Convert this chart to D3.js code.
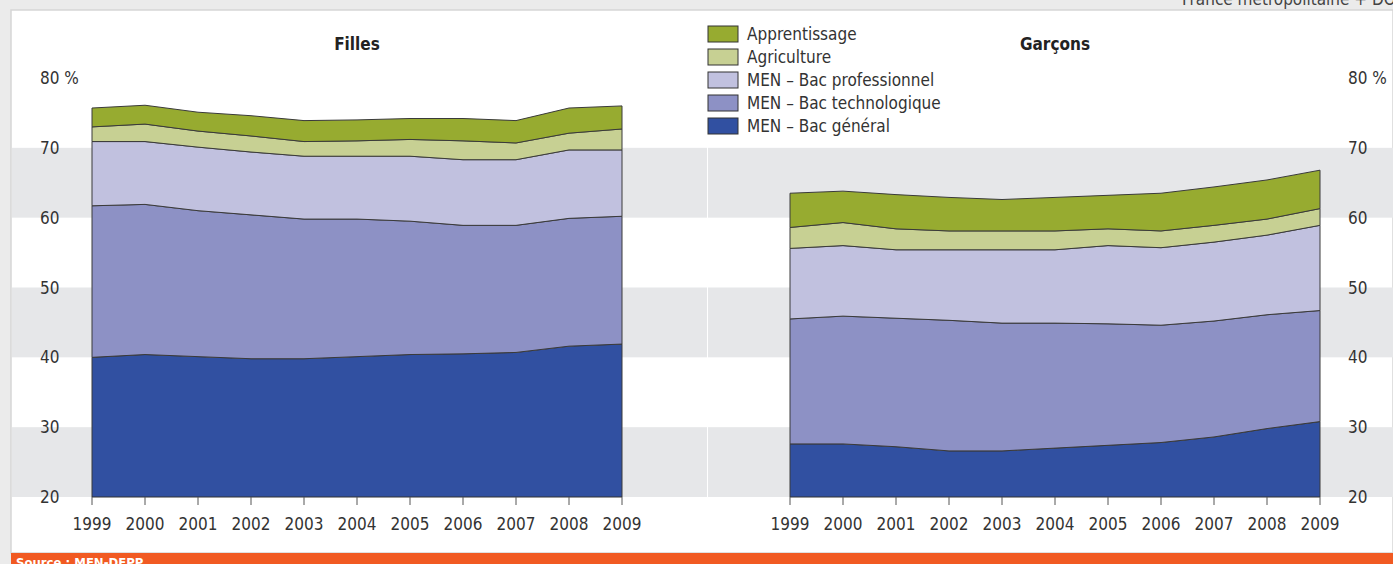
<!DOCTYPE html>
<html>
<head>
<meta charset="utf-8">
<script src="https://cdn.jsdelivr.net/npm/d3@7"></script>
<style>
  body { margin: 0; background: #ebebeb; }
  svg { display: block; font-family: "Liberation Sans Narrow", "DejaVu Sans Condensed", sans-serif; }
</style>
</head>
<body>
<svg id="chart" width="1393" height="564"></svg>
<script>
const years = [1999, 2000, 2001, 2002, 2003, 2004, 2005, 2006, 2007, 2008, 2009];
const seriesNames = ["MEN – Bac général", "MEN – Bac technologique", "MEN – Bac professionnel", "Agriculture", "Apprentissage"];
const colors = ["#3150a1", "#8d91c5", "#c1c1df", "#c7d093", "#97ab30"];
const yTicks = [20, 30, 40, 50, 60, 70, 80];

// Filles (%)
const fillesGeneral = [40.0, 40.4, 40.1, 39.8, 39.8, 40.1, 40.4, 40.5, 40.7, 41.6, 41.9];
const fillesTechno  = [21.7, 21.5, 20.9, 20.6, 20.0, 19.7, 19.1, 18.4, 18.2, 18.3, 18.3];
const fillesPro     = [9.2, 9.0, 9.1, 9.0, 9.0, 9.0, 9.3, 9.4, 9.4, 9.8, 9.5];
const fillesAgri    = [2.1, 2.5, 2.3, 2.3, 2.1, 2.2, 2.4, 2.7, 2.4, 2.4, 3.0];
const fillesAppr    = [2.7, 2.7, 2.7, 2.9, 3.0, 3.0, 3.0, 3.2, 3.2, 3.6, 3.3];

// Garçons (%)
const garconsGeneral = [27.6, 27.6, 27.2, 26.6, 26.6, 27.0, 27.4, 27.8, 28.6, 29.8, 30.8];
const garconsTechno  = [17.9, 18.3, 18.4, 18.7, 18.3, 17.9, 17.4, 16.8, 16.6, 16.3, 15.9];
const garconsPro     = [10.1, 10.1, 9.8, 10.1, 10.5, 10.5, 11.2, 11.1, 11.3, 11.4, 12.2];
const garconsAgri    = [3.0, 3.3, 3.0, 2.7, 2.7, 2.7, 2.4, 2.4, 2.4, 2.3, 2.4];
const garconsAppr    = [4.9, 4.5, 4.9, 4.8, 4.5, 4.8, 4.8, 5.4, 5.5, 5.6, 5.5];

const svg = d3.select("#chart");
const textColor = "#333";

// page frame
svg.append("rect").attr("x", 0).attr("y", 0).attr("width", 1393).attr("height", 564).attr("fill", "#ebebeb");
svg.append("rect").attr("x", 11).attr("y", 10).attr("width", 1382).attr("height", 543)
    .attr("fill", "#fff").attr("stroke", "#d6d6d6").attr("stroke-width", 1.5);
svg.append("text").attr("x", 1182).attr("y", 5).attr("font-size", 17).attr("fill", "#444")
    .text("France métropolitaine + DOM");

const y = d3.scaleLinear().domain([20, 80]).range([497, 78]);

function buildRows(arrs) {
    return years.map((yr, i) => {
        const row = { year: yr };
        seriesNames.forEach((k, j) => row[k] = arrs[j][i]);
        return row;
    });
}

const panels = [
    { title: "Filles", x0: 92, x1: 622, bandX: 12, bandW: 695, labelX: 40,
      rows: buildRows([fillesGeneral, fillesTechno, fillesPro, fillesAgri, fillesAppr]) },
    { title: "Garçons", x0: 790, x1: 1320, bandX: 708, bandW: 685, labelX: 1348,
      rows: buildRows([garconsGeneral, garconsTechno, garconsPro, garconsAgri, garconsAppr]) }
];

const stack = d3.stack().keys(seriesNames);

panels.forEach((p, pi) => {
    const g = svg.append("g");
    const x = d3.scaleLinear().domain([1999, 2009]).range([p.x0, p.x1]);

    // alternating gray bands
    [[20, 30], [40, 50], [60, 70]].forEach(b => {
        g.append("rect").attr("x", p.bandX).attr("width", p.bandW)
            .attr("y", y(b[1])).attr("height", y(b[0]) - y(b[1]))
            .attr("fill", "#e6e7e9");
    });

    // y labels
    g.selectAll(".ylab").data(yTicks).enter().append("text")
        .attr("x", p.labelX).attr("y", d => y(d) + 6)
        .attr("font-size", 17).attr("fill", textColor)
        .text(d => d === 80 ? "80 %" : d);

    // title
    g.append("text").attr("x", (p.x0 + p.x1) / 2 - 0).attr("y", 50)
        .attr("text-anchor", "middle").attr("font-size", 17).attr("font-weight", "bold")
        .attr("fill", "#222").text(p.title);

    // clip below 20 %
    const clipId = "clip" + pi;
    svg.append("clipPath").attr("id", clipId).append("rect")
        .attr("x", p.x0 - 2).attr("y", 0).attr("width", p.x1 - p.x0 + 4).attr("height", y(20));

    const area = d3.area()
        .x(d => x(d.data.year))
        .y0(d => y(d[0]))
        .y1(d => y(d[1]));

    g.append("g").attr("clip-path", `url(#${clipId})`)
        .selectAll("path").data(stack(p.rows)).enter().append("path")
        .attr("d", area)
        .attr("fill", (d, i) => colors[i])
        .attr("stroke", "#3a3a3a").attr("stroke-width", 1).attr("stroke-linejoin", "round");

    // bottom line and ticks
    g.append("line").attr("x1", p.x0).attr("x2", p.x1).attr("y1", y(20)).attr("y2", y(20))
        .attr("stroke", "#333").attr("stroke-width", 1);
    g.selectAll(".tick").data(years).enter().append("line")
        .attr("x1", d => x(d)).attr("x2", d => x(d))
        .attr("y1", y(20)).attr("y2", y(20) + 8)
        .attr("stroke", "#555").attr("stroke-width", 1);
    g.selectAll(".xlab").data(years).enter().append("text")
        .attr("x", d => x(d)).attr("y", 530)
        .attr("text-anchor", "middle").attr("font-size", 17).attr("fill", textColor)
        .text(d => d);
});

// legend (top to bottom: reverse stacking order)
const legend = svg.append("g").attr("transform", "translate(708,26)");
const legendItems = seriesNames.map((n, i) => ({ name: n, color: colors[i] })).reverse();
const li = legend.selectAll("g").data(legendItems).enter().append("g")
    .attr("transform", (d, i) => `translate(0,${i * 23})`);
li.append("rect").attr("width", 30).attr("height", 16)
    .attr("fill", d => d.color).attr("stroke", "#333").attr("stroke-width", 1);
li.append("text").attr("x", 39).attr("y", 14).attr("font-size", 17).attr("fill", textColor)
    .text(d => d.name);

// source footer
svg.append("rect").attr("x", 11).attr("y", 553).attr("width", 1382).attr("height", 11).attr("fill", "#f15a22");
svg.append("text").attr("x", 16).attr("y", 567).attr("font-size", 13).attr("font-weight", "bold")
    .attr("fill", "#fff").text("Source : MEN-DEPP");
</script>
</body>
</html>
